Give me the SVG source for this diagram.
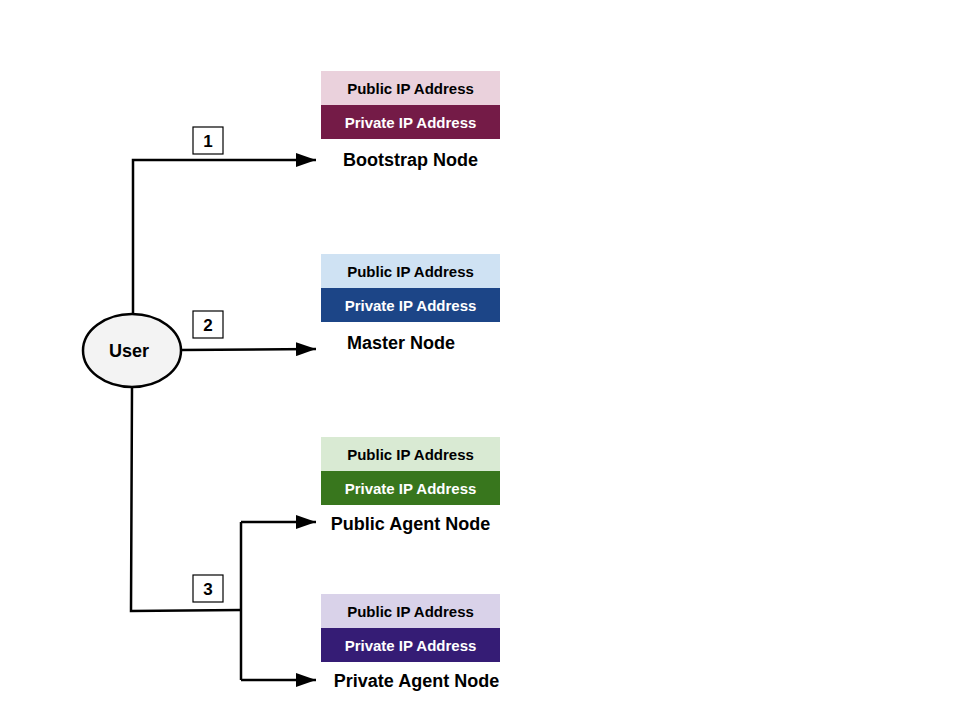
<svg xmlns="http://www.w3.org/2000/svg" width="960" height="720" viewBox="0 0 960 720">
<style>
.ip{font-family:"Liberation Sans",Arial,sans-serif;font-weight:bold;font-size:15px;text-anchor:middle}
.pub{fill:#000}
.priv{fill:#fff}
.lbl{font-family:"Liberation Sans",Arial,sans-serif;font-weight:bold;font-size:18px;text-anchor:middle;fill:#000}
.num{font-family:"Liberation Sans",Arial,sans-serif;font-weight:bold;font-size:17px;text-anchor:middle;fill:#000}
.conn{fill:none;stroke:#000;stroke-width:2.5;stroke-linejoin:miter}
.nbox{fill:#fff;stroke:#000;stroke-width:1.2}
</style>
<defs>
<marker id="arr" markerUnits="userSpaceOnUse" markerWidth="22" markerHeight="14" refX="20" refY="7" orient="auto">
<polygon points="0,0 20,7 0,14" fill="#000"/>
</marker>
</defs>
<rect width="960" height="720" fill="#fff"/>
<g id="user">
<ellipse cx="132" cy="350.5" rx="49" ry="36.5" fill="#f3f3f3" stroke="#000" stroke-width="2.5"/>
<text class="lbl" x="129" y="357">User</text>
</g>
<g id="connectors">
<polyline class="conn" points="133,314 133,160 316,160" marker-end="url(#arr)"/>
<line class="conn" x1="181" y1="350" x2="316" y2="349" marker-end="url(#arr)"/>
<polyline class="conn" points="132,387 131,611 241,610"/>
<polyline class="conn" points="241,522 241,680"/>
<line class="conn" x1="241" y1="522" x2="316" y2="522" marker-end="url(#arr)"/>
<line class="conn" x1="241" y1="680" x2="316" y2="680" marker-end="url(#arr)"/>
<rect class="nbox" x="193" y="127" width="30" height="27"/>
<text class="num" x="208" y="146.5">1</text>
<rect class="nbox" x="193" y="311" width="30" height="27"/>
<text class="num" x="208" y="330.5">2</text>
<rect class="nbox" x="193" y="575" width="30" height="27"/>
<text class="num" x="208" y="594.5">3</text>
</g>
<g id="bootstrap">
<rect x="321" y="71" width="179" height="34" fill="#ead1dc"/>
<rect x="321" y="105" width="179" height="34" fill="#741b47"/>
<text class="ip pub" x="410.5" y="93.5">Public IP Address</text>
<text class="ip priv" x="410.5" y="127.5">Private IP Address</text>
<text class="lbl" x="410.5" y="166">Bootstrap Node</text>
</g>
<g id="master">
<rect x="321" y="254" width="179" height="34" fill="#cfe2f3"/>
<rect x="321" y="288" width="179" height="34" fill="#1c4587"/>
<text class="ip pub" x="410.5" y="276.5">Public IP Address</text>
<text class="ip priv" x="410.5" y="310.5">Private IP Address</text>
<text class="lbl" x="401" y="348.5">Master Node</text>
</g>
<g id="public-agent">
<rect x="321" y="437" width="179" height="34" fill="#d9ead3"/>
<rect x="321" y="471" width="179" height="34" fill="#38761d"/>
<text class="ip pub" x="410.5" y="459.5">Public IP Address</text>
<text class="ip priv" x="410.5" y="493.5">Private IP Address</text>
<text class="lbl" x="410.5" y="529.5">Public Agent Node</text>
</g>
<g id="private-agent">
<rect x="321" y="594" width="179" height="34" fill="#d9d2e9"/>
<rect x="321" y="628" width="179" height="34" fill="#351c75"/>
<text class="ip pub" x="410.5" y="616.5">Public IP Address</text>
<text class="ip priv" x="410.5" y="650.5">Private IP Address</text>
<text class="lbl" x="416.5" y="686.5">Private Agent Node</text>
</g>
</svg>
